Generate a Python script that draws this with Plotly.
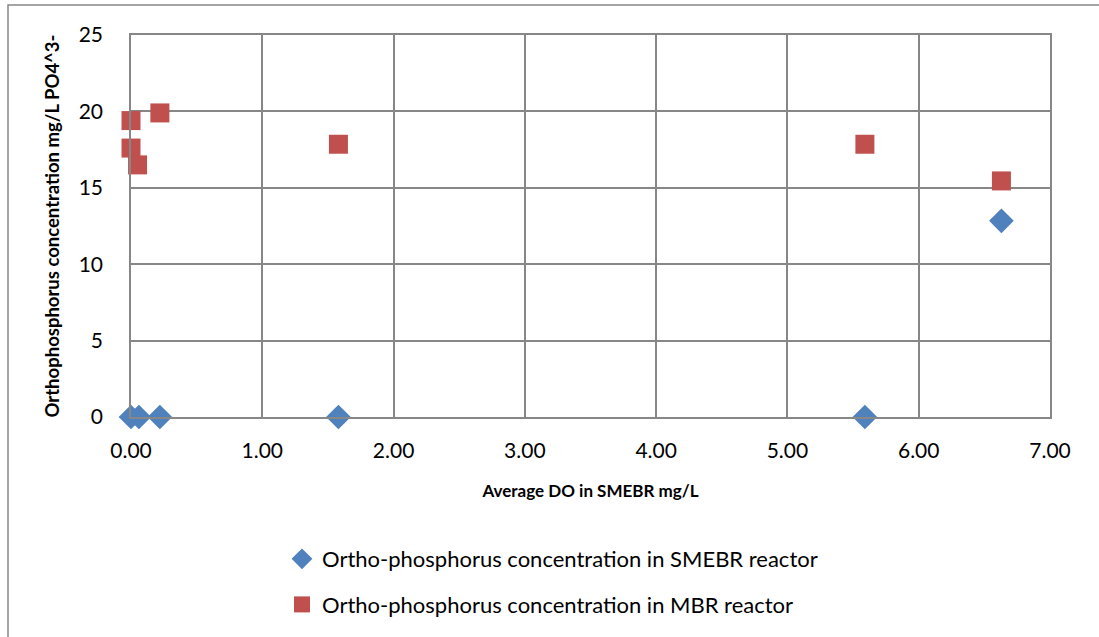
import plotly.graph_objects as go

# Average DO (mg/L) and ortho-phosphorus concentration (mg/L PO4^3-)
do_smebr = [0.00, 0.06, 0.22, 1.58, 5.59, 6.63]
po4_smebr = [0.0, 0.0, 0.0, 0.0, 0.0, 12.84]

do_mbr = [0.00, 0.00, 0.05, 0.22, 1.58, 5.59, 6.63]
po4_mbr = [17.6, 19.4, 16.5, 19.9, 17.85, 17.85, 15.45]

x_ticks = [0, 1, 2, 3, 4, 5, 6, 7]
x_tick_text = ["0.00", "1.00", "2.00", "3.00", "4.00", "5.00", "6.00", "7.00"]
y_ticks = [0, 5, 10, 15, 20, 25]

FONT = "Lato, Calibri, Carlito, sans-serif"

fig = go.Figure()
fig.add_trace(go.Scatter(
    x=do_smebr, y=po4_smebr, mode="markers",
    name="Ortho-phosphorus concentration in SMEBR reactor",
    legendgroup="a", cliponaxis=False,
    marker=dict(symbol="diamond", size=19, color="#4F81BD"),
))
fig.add_trace(go.Scatter(
    x=do_mbr, y=po4_mbr, mode="markers",
    name="Ortho-phosphorus concentration in MBR reactor",
    legendgroup="b", cliponaxis=False,
    marker=dict(symbol="square", size=19, color="#C0504D",
                line=dict(color="#C0504D", width=0)),
))

W, H = 1099, 637
L, R, T, B = 131, 49, 35, 220
pw, ph = W - L - R, H - T - B

def px_to_paper_x(px):
    return (px - L) / pw

def px_to_paper_y(py):
    return (H - B - py) / ph

# outer chart border (top and left edges visible)
fig.add_shape(type="rect", xref="paper", yref="paper",
              x0=px_to_paper_x(8), x1=px_to_paper_x(1120),
              y0=px_to_paper_y(660), y1=px_to_paper_y(5),
              line=dict(color="#868686", width=1.5), layer="below")

fig.update_layout(
    width=W, height=H,
    margin=dict(l=L, r=R, t=T, b=B, autoexpand=False),
    paper_bgcolor="white", plot_bgcolor="white",
    font=dict(family=FONT, size=20, color="black"),
    showlegend=True,
    legend=dict(
        orientation="v", x=px_to_paper_x(282), xanchor="left",
        y=px_to_paper_y(538), yanchor="top",
        font=dict(family=FONT, size=22, color="black"),
        tracegroupgap=14, itemwidth=30,
    ),
    xaxis=dict(
        range=[0, 7], tickvals=x_ticks, ticktext=x_tick_text,
        automargin=False,
        showgrid=True, gridcolor="#878787", gridwidth=1.5,
        showline=True, linecolor="#878787", linewidth=1.5, mirror=True,
        zeroline=False, ticks="", ticklen=0, ticklabelstandoff=14,
        tickfont=dict(family=FONT, size=21),
        title=dict(text="<b>Average DO in SMEBR mg/L</b>",
                   font=dict(family=FONT, size=17), standoff=24),
    ),
    yaxis=dict(
        range=[0, 25], tickvals=y_ticks,
        automargin=False,
        showgrid=True, gridcolor="#878787", gridwidth=1.5,
        showline=True, linecolor="#878787", linewidth=1.5, mirror=True,
        zeroline=False, ticks="", ticklen=0, ticklabelstandoff=22,
        tickfont=dict(family=FONT, size=21),
        title=dict(text="<b>Orthophosphorus concentration mg/L PO4^3-</b>",
                   font=dict(family=FONT, size=18.5), standoff=14),
    ),
)

fig.write_html("out.html")
